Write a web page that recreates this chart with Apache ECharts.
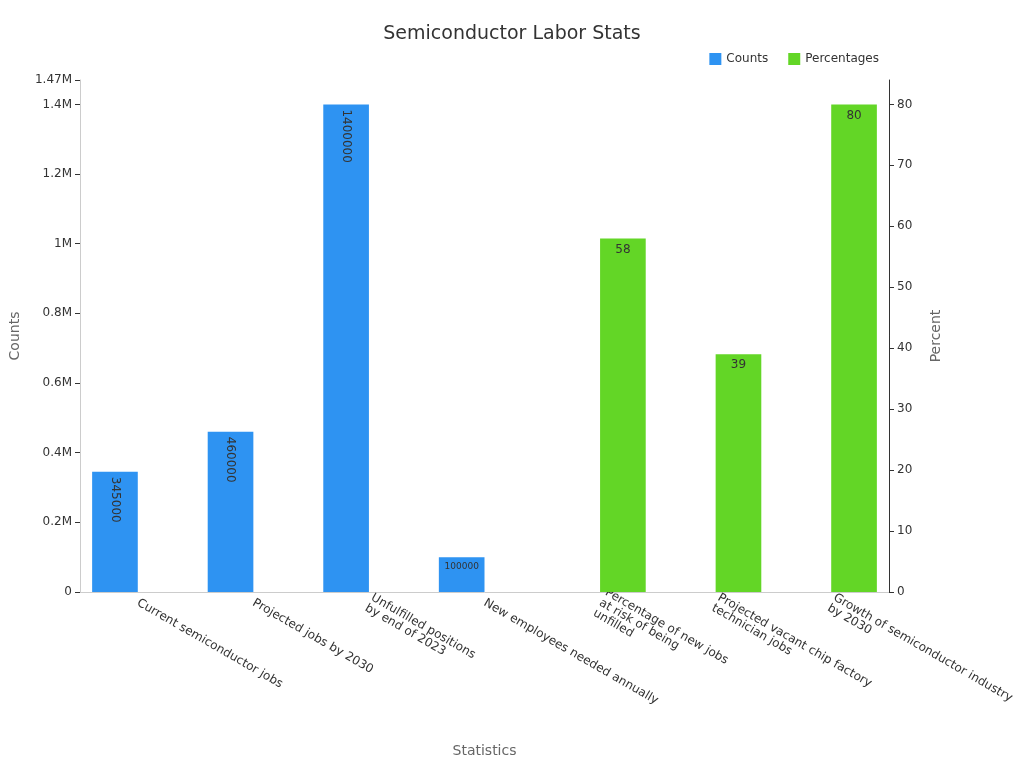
<!DOCTYPE html><html><head><meta charset="utf-8"><script src="https://cdn.jsdelivr.net/npm/echarts@6/dist/echarts.min.js"></script></head><body style="margin:0"><div id="c" style="width:1024px;height:768px"></div><script>
const categories=["Current semiconductor jobs","Projected jobs by 2030","Unfulfilled positions\nby end of 2023","New employees needed annually","Percentage of new jobs\nat risk of being\nunfilled","Projected vacant chip factory\ntechnician jobs","Growth of semiconductor industry\nby 2030"];
const counts=[345000,460000,1400000,100000,null,null,null];
const percentages=[null,null,null,null,58,39,80];
const c=echarts.init(document.getElementById('c'));
const font="DejaVu Sans";
c.setOption({textStyle:{fontFamily:font},
title:{text:"Semiconductor Labor Stats",left:'center',top:20,textStyle:{fontSize:19,fontWeight:'normal',color:'#333',fontFamily:font}},
legend:{right:140,top:48,itemWidth:12,itemHeight:12,icon:'rect',itemGap:20,textStyle:{fontSize:12,color:'#333'},data:["Counts","Percentages"]},
grid:{left:74,right:135,top:80,bottom:176},
xAxis:{type:'category',data:categories,name:"Statistics",nameLocation:'middle',nameGap:152,nameTextStyle:{fontSize:14,color:'#666'},
axisTick:{show:false},axisLine:{lineStyle:{color:'#ccc'}},axisLabel:{rotate:-30,interval:0,fontSize:12,color:'#333',align:'left',margin:10}},
yAxis:[{type:'value',name:"Counts",nameLocation:'middle',nameGap:58,nameTextStyle:{fontSize:14,color:'#666'},min:0,max:1470000,interval:200000,
axisLine:{show:true,lineStyle:{color:'#ccc'}},axisTick:{show:true,lineStyle:{color:'#333'}},splitLine:{show:false},
axisLabel:{color:'#333',fontSize:12,formatter:v=>v===0?'0':(v/1e6)+'M'},showMaxLabel:false},
{type:'value',name:"Percent",nameLocation:'middle',nameGap:40,nameTextStyle:{fontSize:14,color:'#666'},min:0,max:84,interval:10,
axisLine:{show:true,lineStyle:{color:'#333'}},axisTick:{show:true,lineStyle:{color:'#333'}},splitLine:{show:false},axisLabel:{color:'#333',fontSize:12,showMaxLabel:false}}],
series:[{name:"Counts",type:'bar',data:counts.map((v,i)=>v===100000?{value:v,label:{rotate:0,fontSize:9,align:'center',verticalAlign:'top',offset:[0,0]}}:v),
itemStyle:{color:'#2e93f2'},barGap:'0%',barCategoryGap:'21%',
label:{show:true,position:'insideTop',rotate:-90,align:'left',verticalAlign:'middle',distance:5,color:'#333',fontSize:12}},
{name:"Percentages",type:'bar',yAxisIndex:1,data:percentages,itemStyle:{color:'#63d626'},barGap:'0%',barCategoryGap:'21%',
label:{show:true,position:'insideTop',color:'#333',fontSize:12}}]});
</script></body></html>
